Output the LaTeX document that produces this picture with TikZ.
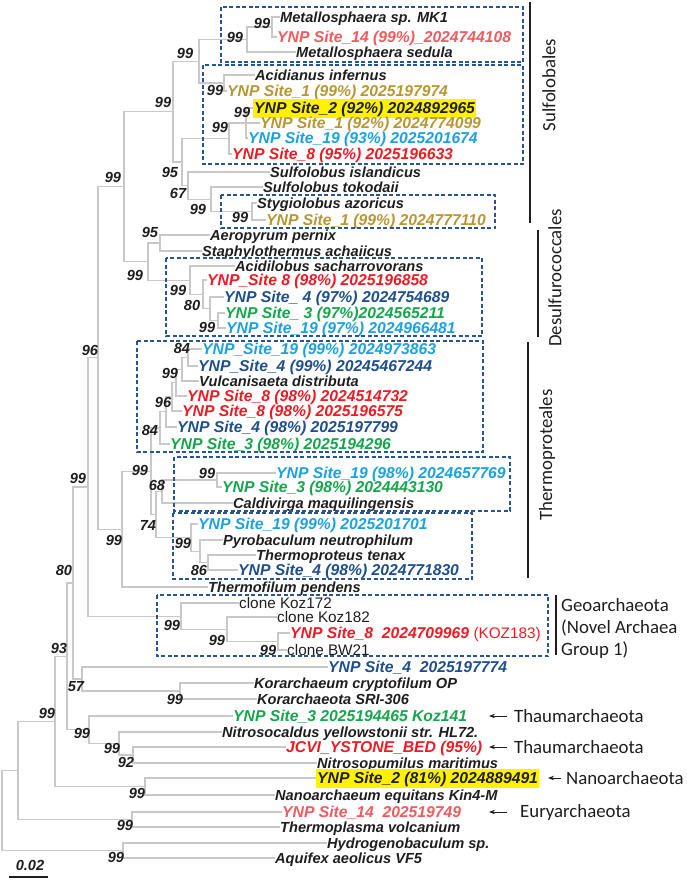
\documentclass[tikz,border=0pt]{standalone}
\usepackage{fontspec}
\setmainfont{Liberation Sans}
\newfontfamily\calib{Carlito}
\usetikzlibrary{arrows.meta}

\definecolor{brgray}{RGB}{200,200,200}
\definecolor{boxblue}{RGB}{38,84,148}
\definecolor{txtblack}{RGB}{30,30,30}
\definecolor{sgold}{RGB}{184,150,50}
\definecolor{sred}{RGB}{237,28,36}
\definecolor{spink}{RGB}{241,90,95}
\definecolor{scyan}{RGB}{27,161,226}
\definecolor{sblue}{RGB}{31,78,140}
\definecolor{sgreen}{RGB}{20,166,75}
\definecolor{hlyellow}{RGB}{255,242,0}

\newcommand\leaffont{\fontsize{14.6}{16}\selectfont\bfseries\itshape}
\newcommand\ynpfont{\fontsize{15.7}{17}\selectfont\bfseries\itshape}
\newcommand\clonefont{\fontsize{15.3}{16}\selectfont}
\newcommand\groupfont{\calib\fontsize{18.8}{22}\selectfont}

\tikzset{
  br/.style={draw=brgray, line width=1.1pt},
  leaf/.style={anchor=west, inner sep=0pt, text height=10.45pt, text depth=0pt,
    font=\leaffont, text=txtblack},
  ynp/.style={leaf, font=\ynpfont, text height=11.2pt},
  site1/.style={ynp, text=sgold},
  site2/.style={ynp, fill=hlyellow, inner xsep=1pt, inner ysep=3.9pt},
  site3/.style={ynp, text=sgreen},
  site4/.style={ynp, text=sblue},
  site8/.style={ynp, text=sred},
  site14/.style={ynp, text=spink},
  site19/.style={ynp, text=scyan},
  clone/.style={leaf, font=\clonefont, text height=10.9pt},
  bs/.style={inner sep=0pt, font=\leaffont, text=txtblack},
  dbox/.style={draw=boxblue, line width=1.5pt, dash pattern=on 4pt off 2.5pt},
  bar/.style={draw=txtblack, line width=1.8pt},
  grp/.style={font=\groupfont, inner sep=0pt, text=txtblack},
  arr/.style={-{Stealth[length=6pt,width=4.5pt]}, line width=0.9pt, draw=txtblack}
}

\begin{document}
\begin{tikzpicture}[x=1pt,y=-1pt]
  \useasboundingbox (0,0) rectangle (686,881);

  % leaves, top to bottom
  \node[leaf]   (metmk1) at (280,17)  {Metallosphaera sp. MK1};
  \node[site14] (ynp14a) at (277,37)  {YNP Site\_14 (99\%)\_2024744108};
  \node[leaf]   (metsed) at (296,52)  {Metallosphaera sedula};
  \node[leaf]   (aciinf) at (255,75)  {Acidianus infernus};
  \node[site1]  (ynp1a)  at (227,91)  {YNP Site\_1 (99\%) 2025197974};
  \node[site2]  (ynp2a)  at (253,108) {YNP Site\_2 (92\%) 2024892965};
  \node[site1]  (ynp1b)  at (260,123) {YNP Site\_1 (92\%) 2024774099};
  \node[site19] (ynp19a) at (248,138) {YNP Site\_19 (93\%) 2025201674};
  \node[site8]  (ynp8a)  at (232,154) {YNP Site\_8 (95\%) 2025196633};
  \node[leaf]   (sulisl) at (270,172) {Sulfolobus islandicus};
  \node[leaf]   (sultok) at (263,187) {Sulfolobus tokodaii};
  \node[leaf]   (styazo) at (257,203) {Stygiolobus azoricus};
  \node[site1]  (ynp1c)  at (266,220) {YNP Site\_1 (99\%) 2024777110};
  \node[leaf]   (aerper) at (210,235) {Aeropyrum pernix};
  \node[leaf]   (staach) at (202,251) {Staphylothermus achaiicus};
  \node[leaf]   (acisac) at (235,266) {Acidilobus sacharrovorans};
  \node[site8]  (ynp8b)  at (207,280) {YNP\_Site 8 (98\%) 2025196858};
  \node[site4]  (ynp4a)  at (224,297) {YNP Site\_ 4 (97\%) 2024754689};
  \node[site3]  (ynp3a)  at (225,313) {YNP Site\_ 3 (97\%)2024565211};
  \node[site19] (ynp19b) at (226,328) {YNP Site\_19 (97\%) 2024966481};
  \node[site19] (ynp19c) at (202,349) {YNP\_Site\_19 (99\%) 2024973863};
  \node[site4]  (ynp4b)  at (198,366) {YNP\_Site\_4 (99\%) 20245467244};
  \node[leaf]   (vuldis) at (199,381) {Vulcanisaeta distributa};
  \node[site8]  (ynp8c)  at (187,396) {YNP Site\_8 (98\%) 2024514732};
  \node[site8]  (ynp8d)  at (182,411) {YNP Site\_8 (98\%) 2025196575};
  \node[site4]  (ynp4c)  at (177,427) {YNP Site\_4 (98\%) 2025197799};
  \node[site3]  (ynp3b)  at (170,444) {YNP Site\_3 (98\%) 2025194296};
  \node[site19] (ynp19d) at (276,473) {YNP Site\_19 (98\%) 2024657769};
  \node[site3]  (ynp3c)  at (222,487) {YNP Site\_3 (98\%) 2024443130};
  \node[leaf]   (calmaq) at (233,503) {Caldivirga maquilingensis};
  \node[site19] (ynp19e) at (198,524) {YNP Site\_19 (99\%) 2025201701};
  \node[leaf]   (pyrneu) at (223,540) {Pyrobaculum neutrophilum};
  \node[leaf]   (thetex) at (256,555) {Thermoproteus tenax};
  \node[site4]  (ynp4d)  at (238,570) {YNP Site\_4 (98\%) 2024771830};
  \node[leaf]   (thepen) at (208,587) {Thermofilum pendens};
  \node[clone]  (koz172) at (239,603) {clone Koz172};
  \node[clone]  (koz182) at (277,617) {clone Koz182};
  \node[site8]  (koz183) at (290,633) {YNP Site\_8\ \ 2024709969 {\normalfont\clonefont(KOZ183)}};
  \node[clone]  (bw21)   at (287,650) {clone BW21};
  \node[site4]  (ynp4e)  at (328,667) {YNP Site\_4\ \ 2025197774};
  \node[leaf]   (korcry) at (254,683) {Korarchaeum cryptofilum OP};
  \node[leaf]   (korsri) at (257,699) {Korarchaeota SRI-306};
  \node[site3]  (koz141) at (233,716) {YNP Site\_3 2025194465 Koz141};
  \node[leaf]   (nityel) at (222,732) {Nitrosocaldus yellowstonii str. HL72.};
  \node[site8]  (jcvi)   at (286,747) {JCVI\_YSTONE\_BED (95\%)};
  \node[leaf]   (nitmar) at (317,763) {Nitrosopumilus maritimus};
  \node[site2]  (ynp2b)  at (316,778) {YNP Site\_2 (81\%) 2024889491};
  \node[leaf]   (nanequ) at (275,795) {Nanoarchaeum equitans Kin4-M};
  \node[site14] (ynp14b) at (282,812) {YNP Site\_14\ \ 202519749};
  \node[leaf]   (thevol) at (280,827) {Thermoplasma volcanium};
  \node[leaf]   (hydsp)  at (327,843) {Hydrogenobaculum sp.};
  \node[leaf]   (aquaeo) at (275,858) {Aquifex aeolicus VF5};

  % inner nodes of the tree
  \coordinate (nmet2) at (272,27);
  \coordinate (nmet)  at (247,39.5);
  \coordinate (naci)  at (224,83);
  \coordinate (nma)   at (199,61.25);
  \coordinate (nz)    at (246,123);
  \coordinate (ny)    at (229,138.5);
  \coordinate (nsty)  at (252,211.5);
  \coordinate (ntok)  at (211,199.25);
  \coordinate (nisl)  at (188,185.6);
  \coordinate (nx)    at (182,162);
  \coordinate (nsulf) at (173,111.6);
  \coordinate (naer)  at (160,243);
  \coordinate (nd)    at (218,320.5);
  \coordinate (nc)    at (210,308.75);
  \coordinate (nb)    at (203,294.4);
  \coordinate (na)    at (190,280.2);
  \coordinate (ndes)  at (148,261.6);
  \coordinate (ncren) at (124,186.6);
  \coordinate (va)    at (188,357.5);
  \coordinate (vb)    at (182,369.25);
  \coordinate (vc)    at (176,382.6);
  \coordinate (vd)    at (172,396.8);
  \coordinate (ve)    at (166,411.9);
  \coordinate (vf)    at (160,428);
  \coordinate (cla)   at (217,480);
  \coordinate (n68)   at (162,491.5);
  \coordinate (n86)   at (208,562.5);
  \coordinate (npq)   at (200,551.25);
  \coordinate (npy)   at (191,537.6);
  \coordinate (n74)   at (156,514.6);
  \coordinate (nth2)  at (151,471.3);
  \coordinate (nthp)  at (122,529.2);
  \coordinate (n96)   at (98,357.9);
  \coordinate (ng3)   at (278,641.5);
  \coordinate (ng2)   at (227,629.25);
  \coordinate (ngeo)  at (181,616.1);
  \coordinate (nt99)  at (88,487);
  \coordinate (nkor)  at (180,691);
  \coordinate (n57)   at (82,679);
  \coordinate (n80)   at (73,583);
  \coordinate (n92)   at (133,755);
  \coordinate (nnit)  at (119,743.5);
  \coordinate (nthm)  at (89,729.75);
  \coordinate (n93)   at (67,656.4);
  \coordinate (nnano) at (145,786.5);
  \coordinate (narc1) at (55,721.4);
  \coordinate (neury) at (132,819.5);
  \coordinate (narc)  at (18,770.5);
  \coordinate (nbac)  at (123,850.5);
  \coordinate (nroot) at (2,810.5);

  % branches
  \foreach \p/\c in {nmet2/metmk1, nmet2/ynp14a, nmet/nmet2, nmet/metsed,
      naci/aciinf, naci/ynp1a, nma/nmet, nma/naci,
      nz/ynp2a, nz/ynp1b, nz/ynp19a, ny/nz, ny/ynp8a,
      nsty/styazo, nsty/ynp1c, ntok/sultok, ntok/nsty, nisl/sulisl, nisl/ntok,
      nx/ny, nx/nisl, nsulf/nma, nsulf/nx,
      naer/aerper, naer/staach, nd/ynp3a, nd/ynp19b, nc/ynp4a, nc/nd,
      nb/ynp8b, nb/nc, na/acisac, na/nb, ndes/naer, ndes/na,
      ncren/nsulf, ncren/ndes,
      va/ynp19c, va/ynp4b, vb/va, vb/vuldis, vc/vb, vc/ynp8c, vd/vc, vd/ynp8d,
      ve/vd, ve/ynp4c, vf/ve, vf/ynp3b,
      cla/ynp19d, cla/ynp3c, n68/cla, n68/calmaq,
      n86/thetex, n86/ynp4d, npq/pyrneu, npq/n86, npy/ynp19e, npy/npq,
      n74/n68, n74/npy, nth2/vf, nth2/n74, nthp/nth2, nthp/thepen,
      n96/ncren, n96/nthp,
      ng3/koz183, ng3/bw21, ng2/koz182, ng2/ng3, ngeo/koz172, ngeo/ng2,
      nt99/n96, nt99/ngeo,
      nkor/korcry, nkor/korsri, n57/ynp4e, n57/nkor, n80/nt99, n80/n57,
      n92/jcvi, n92/nitmar, nnit/nityel, nnit/n92, nthm/koz141, nthm/nnit,
      n93/n80, n93/nthm, nnano/ynp2b, nnano/nanequ, narc1/n93, narc1/nnano,
      neury/ynp14b, neury/thevol, narc/narc1, narc/neury,
      nbac/hydsp, nbac/aquaeo, nroot/narc, nroot/nbac}
    \draw[br] (\p) |- (\c);

  % bootstrap values
  \foreach \x/\y/\v [count=\i] in {262/23/99, 235/37/99, 185/53/99, 163/102/99,
      215/90/99, 242/112/99, 220/127/99, 113/177/99, 170/172/95, 178/193/67,
      198/209/99, 240/217/99, 150/232/95, 135/275/99, 178/290/99, 192/305/80,
      207/327/99, 90/350/96, 182/348/84, 170/373/99, 163/402/96, 150/430/84,
      140/470/99, 207/473/99, 157/485/68, 148/525/74, 114/540/99, 183/543/99,
      199/570/86, 78/478/99, 172/625/99, 217/640/99, 268/650/99, 64/570/80,
      59/648/93, 76/687/57, 175/699/99, 47/713/99, 82/733/99, 112/748/99,
      126/762/92, 137/793/99, 125/825/99, 116/857/99}
    \node[bs] (bs\i) at (\x,\y) {\v};

  % dashed boxes
  \draw[dbox] (221,7) rectangle (523,62);
  \draw[dbox] (203,65) rectangle (523,164);
  \draw[dbox] (221,195) rectangle (495,228);
  \draw[dbox] (166,258) rectangle (482,336);
  \draw[dbox] (137,341) rectangle (483,452);
  \draw[dbox] (174,457) rectangle (510,511);
  \draw[dbox] (173,513) rectangle (472,579);
  \draw[dbox] (157,595) rectangle (548,656);

  % orders
  \draw[bar] (530,2) -- (530,223);
  \node[grp, rotate=90] (sulfo) at (549,85) {Sulfolobales};
  \draw[bar] (538,230) -- (538,337);
  \node[grp, rotate=90] (desulf) at (555,278) {Desulfurococcales};
  \draw[bar] (528,342) -- (528,578);
  \node[grp, rotate=90] (thprot) at (547,455) {Thermoproteales};
  \draw[bar] (556,595) -- (556,655);
  \node[grp, align=left, anchor=west] (geoar) at (561,628)
    {Geoarchaeota\\(Novel Archaea\\Group 1)};

  % phyla with arrows
  \node[grp, anchor=west] (thaum1) at (514,716) {Thaumarchaeota};
  \node[grp, anchor=west] (thaum2) at (514,747) {Thaumarchaeota};
  \node[grp, anchor=west] (nanoar) at (566,778) {Nanoarchaeota};
  \node[grp, anchor=west] (euryar) at (520,812) {Euryarchaeota};
  \coordinate (tip1) at (489,716);
  \coordinate (tip2) at (489,747);
  \coordinate (tip3) at (548,778);
  \coordinate (tip4) at (489,812);
  \draw[arr, shorten <=7pt] (thaum1) -- (tip1);
  \draw[arr, shorten <=7pt] (thaum2) -- (tip2);
  \draw[arr, shorten <=5pt] (nanoar) -- (tip3);
  \draw[arr, shorten <=13pt] (euryar) -- (tip4);

  % scale bar
  \node[bs] (scale) at (30,865) {0.02};
  \coordinate (sbl) at (9,877);
  \coordinate (sbr) at (48,877);
  \draw[line width=1.4pt, draw=txtblack] (sbl) -- (sbr);
\end{tikzpicture}
\end{document}
